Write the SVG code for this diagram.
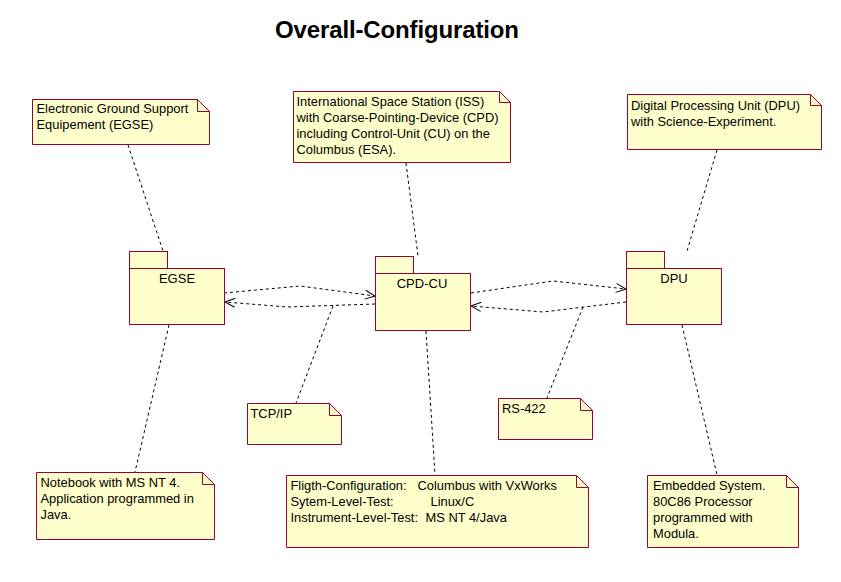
<svg xmlns="http://www.w3.org/2000/svg" width="841" height="582" viewBox="0 0 841 582">
<style>
.note{fill:#ffffcc;stroke:#990033;stroke-width:1}
.fold{fill:none;stroke:#990033;stroke-width:1}
.pkg{fill:#ffffcc;stroke:#990033;stroke-width:1}
.t{font-family:"Liberation Sans",Arial,sans-serif;font-size:12.9px;fill:#000}
.lbl{font-family:"Liberation Sans",Arial,sans-serif;font-size:13px;fill:#000;text-anchor:middle}
.title{font-family:"Liberation Sans",Arial,sans-serif;font-size:24px;font-weight:bold;fill:#000;text-anchor:middle}
.dash{fill:none;stroke:#000;stroke-width:1;stroke-dasharray:3,3}
</style>
<defs>
<marker id="open" markerUnits="userSpaceOnUse" markerWidth="12" markerHeight="12" viewBox="0 0 12 12" refX="11" refY="6" orient="auto">
<path d="M1,1.5 L11,6 L1,10.5" fill="none" stroke="#000" stroke-width="1"/>
</marker>
</defs>
<rect width="841" height="582" fill="#fff"/>
<text class="title" x="397" y="37.5" textLength="244">Overall-Configuration</text>

<g id="connectors">
<polyline class="dash" points="224,293 300,286 375,296" marker-end="url(#open)"/>
<polyline class="dash" points="375,304 287,307 225,302" marker-end="url(#open)"/>
<polyline class="dash" points="471,293 553,281 626,289" marker-end="url(#open)"/>
<polyline class="dash" points="626,302 543,312 471,306" marker-end="url(#open)"/>
<line class="dash" x1="128" y1="145" x2="163" y2="251"/>
<line class="dash" x1="406" y1="163" x2="418" y2="256"/>
<line class="dash" x1="717" y1="150" x2="687" y2="251"/>
<line class="dash" x1="169" y1="325" x2="135" y2="472"/>
<line class="dash" x1="333" y1="306" x2="296" y2="403"/>
<line class="dash" x1="426" y1="331" x2="435" y2="475"/>
<line class="dash" x1="583" y1="307" x2="547" y2="398"/>
<line class="dash" x1="682" y1="325" x2="717" y2="475"/>
</g>

<g id="pkg-egse">
<rect class="pkg" x="129.5" y="251.5" width="38" height="17"/>
<rect class="pkg" x="129.5" y="268.5" width="95" height="56"/>
<text class="lbl" x="177" y="283">EGSE</text>
</g>
<g id="pkg-cpdcu">
<rect class="pkg" x="375.5" y="256.5" width="38" height="17"/>
<rect class="pkg" x="375.5" y="273.5" width="95" height="57"/>
<text class="lbl" x="422" y="288">CPD-CU</text>
</g>
<g id="pkg-dpu">
<rect class="pkg" x="626.5" y="251.5" width="38" height="17"/>
<rect class="pkg" x="626.5" y="268.5" width="95" height="56"/>
<text class="lbl" x="674" y="283">DPU</text>
</g>

<g id="note-egse">
<path class="note" d="M32.5,99.5 H197.5 L209.5,111.5 V144.5 H32.5 Z"/>
<path class="fold" d="M197.5,99.5 V111.5 H209.5"/>
<text class="t" x="36.5" y="113"><tspan x="36.5">Electronic Ground Support</tspan><tspan x="36.5" dy="16">Equipement (EGSE)</tspan></text>
</g>
<g id="note-cpd">
<path class="note" d="M293.5,91.5 H499.5 L510.5,102.5 V162.5 H293.5 Z"/>
<path class="fold" d="M499.5,91.5 V102.5 H510.5"/>
<text class="t" x="296.5" y="105.5"><tspan x="296.5">International Space Station (ISS)</tspan><tspan x="296.5" dy="16">with Coarse-Pointing-Device (CPD)</tspan><tspan x="296.5" dy="16">including Control-Unit (CU) on the</tspan><tspan x="296.5" dy="16">Columbus (ESA).</tspan></text>
</g>
<g id="note-dpu">
<path class="note" d="M627.5,94.5 H810.5 L821.5,105.5 V149.5 H627.5 Z"/>
<path class="fold" d="M810.5,94.5 V105.5 H821.5"/>
<text class="t" x="631" y="110"><tspan x="631">Digital Processing Unit (DPU)</tspan><tspan x="631" dy="16">with Science-Experiment.</tspan></text>
</g>
<g id="note-tcp">
<path class="note" d="M247.5,403.5 H329.5 L341.5,415.5 V444.5 H247.5 Z"/>
<path class="fold" d="M329.5,403.5 V415.5 H341.5"/>
<text class="t" x="250.5" y="417.5">TCP/IP</text>
</g>
<g id="note-rs">
<path class="note" d="M498.5,398.5 H580.5 L592.5,410.5 V439.5 H498.5 Z"/>
<path class="fold" d="M580.5,398.5 V410.5 H592.5"/>
<text class="t" x="502" y="412.5">RS-422</text>
</g>
<g id="note-notebook">
<path class="note" d="M36.5,472.5 H202.5 L214.5,484.5 V539.5 H36.5 Z"/>
<path class="fold" d="M202.5,472.5 V484.5 H214.5"/>
<text class="t" x="40.5" y="486.5"><tspan x="40.5">Notebook with MS NT 4.</tspan><tspan x="40.5" dy="16">Application programmed in</tspan><tspan x="40.5" dy="16">Java.</tspan></text>
</g>
<g id="note-flight">
<path class="note" d="M286.5,475.5 H576.5 L588.5,487.5 V547.5 H286.5 Z"/>
<path class="fold" d="M576.5,475.5 V487.5 H588.5"/>
<text class="t" x="290.5" y="489.5">Fligth-Configuration:</text>
<text class="t" x="417.5" y="489.5">Columbus with VxWorks</text>
<text class="t" x="290.5" y="505.5">Sytem-Level-Test:</text>
<text class="t" x="430.5" y="505.5">Linux/C</text>
<text class="t" x="290.5" y="521.5">Instrument-Level-Test:</text>
<text class="t" x="425.5" y="521.5">MS NT 4/Java</text>
</g>
<g id="note-embedded">
<path class="note" d="M647.5,475.5 H786.5 L798.5,487.5 V547.5 H647.5 Z"/>
<path class="fold" d="M786.5,475.5 V487.5 H798.5"/>
<text class="t" x="653" y="489.5"><tspan x="653">Embedded System.</tspan><tspan x="653" dy="16">80C86 Processor</tspan><tspan x="653" dy="16">programmed with</tspan><tspan x="653" dy="16">Modula.</tspan></text>
</g>
</svg>
